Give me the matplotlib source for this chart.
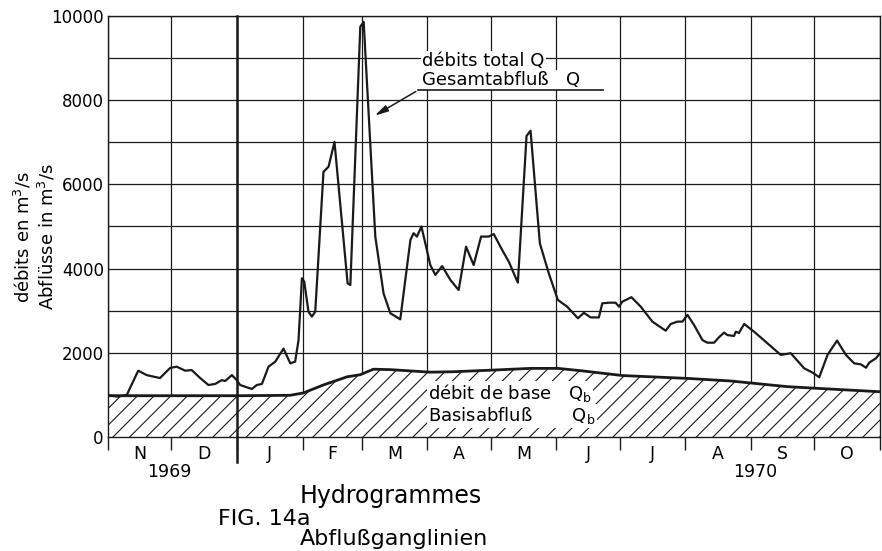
import matplotlib.pyplot as plt
import matplotlib.transforms as mtransforms

plt.rcParams['font.family'] = ['DejaVu Sans']

# jours depuis le 1er novembre 1969 / Tage ab 1. Nov. 1969
month_edges = [0, 30, 61, 92, 120, 151, 181, 212, 242, 273, 304, 334, 365]
month_names = ['N', 'D', 'J', 'F', 'M', 'A', 'M', 'J', 'J', 'A', 'S', 'O']
years = ['1969', '1970']

# Gesamtabfluss Q (m3/s)
days_q = [0, 4.7, 8.9, 14.3, 18.3, 24.6, 29.4, 32.5, 36.5, 39.6,
          43.6, 47.5, 50.7, 53.8, 55.4, 58.6, 60.9, 62.5, 68.0, 70.4,
          72.8, 75.9, 79.1, 83.0, 86.2, 88.5, 90.1, 91.7, 92.8, 94.8,
          96.4, 98.0, 101.9, 104.3, 107.1, 113.3, 114.6, 119.3, 120.9, 126.4,
          130.3, 133.5, 138.2, 143.0, 144.5, 146.1, 148.2, 152.4, 154.8, 158.0,
          161.9, 165.8, 169.3, 172.9, 176.4, 180.0, 182.4, 186.4, 189.5, 193.8,
          197.9, 199.8, 202.1, 204.2, 208.4, 212.7, 217.1, 222.2, 225.0, 228.2,
          232.1, 233.7, 236.9, 240.0, 241.6, 243.2, 247.5, 251.9, 257.4, 263.7,
          266.1, 269.2, 271.6, 274.0, 277.1, 281.1, 283.4, 286.6, 288.9, 291.3,
          292.9, 296.0, 296.8, 298.3, 300.8, 305.5, 318.1, 322.8, 329.2, 333.1,
          336.3, 340.2, 344.7, 348.9, 352.8, 356.0, 358.4, 359.9, 363.1, 365]
q_total = [990, 960, 1000, 1575, 1470, 1400, 1640, 1670, 1575, 1590,
           1400, 1235, 1260, 1350, 1330, 1470, 1350, 1235, 1140, 1235,
           1260, 1670, 1790, 2100, 1750, 1790, 2300, 3770, 3690, 2975,
           2860, 2975, 6300, 6420, 7010, 3650, 3610, 9745, 9860, 4760,
           3410, 2940, 2795, 4680, 4840, 4760, 5000, 4085, 3850, 4060,
           3730, 3490, 4520, 4085, 4760, 4760, 4820, 4440, 4165, 3665,
           7150, 7275, 5870, 4600, 3890, 3255, 3095, 2820, 2950, 2840,
           2840, 3175, 3190, 3190, 3095, 3215, 3320, 3095, 2740, 2525,
           2685, 2740, 2740, 2900, 2660, 2300, 2240, 2240, 2370, 2480,
           2420, 2400, 2500, 2470, 2685, 2500, 1950, 1990, 1630, 1530,
           1420, 1950, 2290, 1950, 1750, 1725, 1645, 1765, 1870, 1990]

# Basisabfluss Qb (m3/s)
days_b = [0, 62, 86, 92.3, 101.8, 113.1, 119.3, 125.5, 133.5, 152.4, 163.3,
          182.3, 199.8, 212.6, 223.5, 243.2, 274.6, 294.5, 305.4, 321.4, 335.6, 365]
q_base = [980, 980, 990, 1045, 1235, 1430, 1480, 1610, 1600, 1540, 1550,
          1590, 1630, 1630, 1575, 1460, 1390, 1330, 1275, 1195, 1155, 1075]

ink = '#1a1a1a'
plt.rcParams['hatch.linewidth'] = 0.8
plt.rcParams['hatch.color'] = ink

fig = plt.figure(figsize=(8.82, 5.51), dpi=100)
ax = fig.add_axes([0.1224, 0.2069, 0.8753, 0.7641])

ax.set_xlim(0, 365)
ax.set_ylim(0, 10000)

# grille
ax.set_yticks(range(0, 10001, 2000))
ax.set_yticks(range(1000, 10000, 2000), minor=True)
ax.set_xticks(month_edges)
ax.set_xticklabels([])
ax.set_xticks([(a + b) / 2 for a, b in zip(month_edges[:-1], month_edges[1:])], minor=True)
ax.set_xticklabels(month_names, minor=True, fontsize=12.5)
ax.grid(True, which='major', color=ink, lw=0.9)
ax.grid(True, which='minor', axis='y', color=ink, lw=0.9)
ax.set_axisbelow(True)
ax.tick_params(axis='x', which='major', length=9, width=1, direction='out', color=ink)
ax.tick_params(axis='x', which='minor', length=0, pad=6)
ax.tick_params(axis='y', which='both', length=0, pad=3, labelsize=12)
for s in ax.spines.values():
    s.set_color(ink)
    s.set_linewidth(1)

# limite d'année
ax.axvline(month_edges[2], ymin=-0.06, ymax=1, color=ink, lw=1.8, clip_on=False, zorder=2)

trans = mtransforms.blended_transform_factory(ax.transData, ax.transAxes)
ax.text(29, -0.083, years[0], transform=trans, ha='center', va='center', fontsize=12.5)
ax.text(306, -0.083, years[1], transform=trans, ha='center', va='center', fontsize=12.5)

# débit de base hachuré
ax.fill_between(days_b, 0, q_base, facecolor='white', edgecolor=ink, hatch='//', lw=0, zorder=1)
ax.plot(days_b, q_base, color=ink, lw=2, zorder=3)

# débit total
ax.plot(days_q, q_total, color=ink, lw=1.6, zorder=4)

# légendes
box = dict(facecolor='white', edgecolor='none', pad=0.8)
ax.text(148.6, 8920, 'débits total Q', fontsize=13, va='center', ha='left', bbox=box, zorder=5)
ax.text(148.6, 8470, 'Gesamtabfluß   Q', fontsize=13, va='center', ha='left', bbox=box, zorder=6)
ax.plot([146.7, 234], [8240, 8240], color=ink, lw=1.2, zorder=6)
ax.annotate('', xy=(125, 7600), xytext=(146.7, 8240),
            arrowprops=dict(arrowstyle='-|>,head_length=0.8,head_width=0.2', color=ink, lw=1.1),
            zorder=6)

ax.text(151.5, 1040, 'débit de base   Q$_\\mathregular{b}$', fontsize=13, va='center', ha='left',
        bbox=box, zorder=5)
ax.text(151.5, 500, 'Basisabfluß       Q$_\\mathregular{b}$', fontsize=13, va='center', ha='left',
        bbox=box, zorder=5)

# axe y
fig.text(0.026, 0.57, 'débits en m$^3$/s', rotation=90, fontsize=13, ha='center', va='center')
fig.text(0.053, 0.57, 'Abflüsse in m$^3$/s', rotation=90, fontsize=13, ha='center', va='center')

# titres
fig.text(300 / 882, 0.087, 'Hydrogrammes', fontsize=17, ha='left', va='baseline')
fig.text(300 / 882, 0.011, 'Abflußganglinien', fontsize=16, ha='left', va='baseline')
fig.text(218 / 882, 0.047, 'FIG. 14a', fontsize=16, ha='left', va='baseline')

fig.savefig('out.png', dpi=100)
